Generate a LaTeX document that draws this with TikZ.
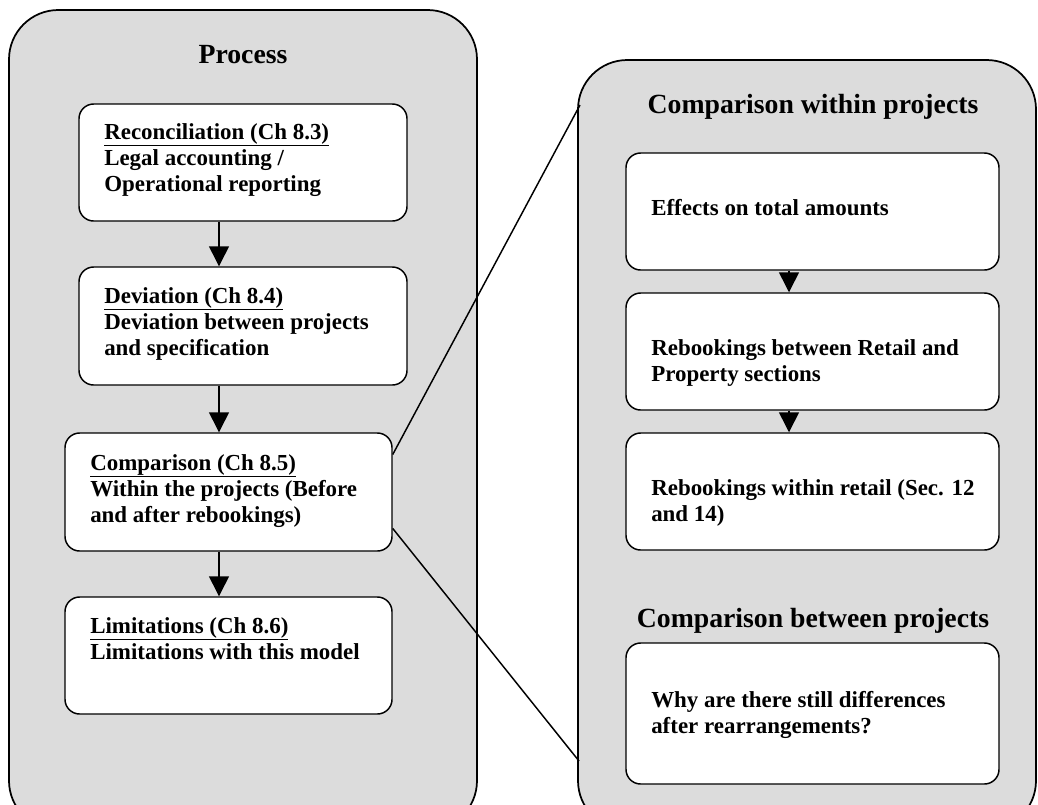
\documentclass[tikz,border=0pt]{standalone}
\usepackage{fontspec}
\setmainfont{Liberation Serif}
\usetikzlibrary{arrows.meta,fit,calc}
\definecolor{panelgray}{RGB}{220,220,220}
\newcommand\boxlines[1]{\begin{tabular}[t]{@{}l@{}}#1\end{tabular}}
\begin{document}
\begin{tikzpicture}[x=0.75pt,y=-0.75pt,
  panel/.style={draw=black,line width=1.3pt,fill=panelgray,rounded corners=37pt},
  stepbox/.style={draw=black,line width=1.1pt,fill=white,rounded corners=11pt,inner sep=0pt},
  boxtext/.style={anchor=base west,inner sep=0pt,font=\bfseries\fontsize{17.2pt}{19.5pt}\selectfont},
  title/.style={anchor=base,inner sep=0pt,font=\bfseries\fontsize{20.8pt}{24pt}\selectfont},
  arr/.style={line width=1.1pt,-{Triangle[length=15pt,width=15pt]}},
  zoomline/.style={line width=1.1pt}]
\useasboundingbox (0,0) rectangle (1038,804);
\clip (0,0) rectangle (1038,804);

% panels
\draw[panel] (9,10) rectangle (477,830);
\draw[panel] (578,60) rectangle (1036,830);

% left column: process steps
\node[stepbox,fit={(79,104) (407,221)}] (b1) {};
\node[stepbox,fit={(79,267) (407,385)}] (b2) {};
\node[stepbox,fit={(65,433) (392,551)}] (b3) {};
\node[stepbox,fit={(65,597) (392,714)}] (b4) {};

\node[title] (ptitle) at (243,63) {Process};
\node[boxtext] (b1t) at (104,139) {\boxlines{\underline{Reconciliation (Ch 8.3)}\\Legal accounting /\\Operational reporting}};
\node[boxtext] (b2t) at (104,303) {\boxlines{\underline{Deviation (Ch 8.4)}\\Deviation between projects\\and specification}};
\node[boxtext] (b3t) at (90,470) {\boxlines{\underline{Comparison (Ch 8.5)}\\Within the projects (Before\\and after rebookings)}};
\node[boxtext] (b4t) at (90,633) {\boxlines{\underline{Limitations (Ch 8.6)}\\Limitations with this model}};

\coordinate (ax) at (219,0);
\draw[arr] (b1.south -| ax) -- (b2.north -| ax);
\draw[arr] (b2.south -| ax) -- (b3.north -| ax);
\draw[arr] (b3.south -| ax) -- (b4.north -| ax);

% right panel: comparison details
\node[stepbox,fit={(626,153) (999,270)}] (r1) {};
\node[stepbox,fit={(626,293) (999,410)}] (r2) {};
\node[stepbox,fit={(626,433) (999,550)}] (r3) {};
\node[stepbox,fit={(626,643) (999,784)}] (r4) {};

\node[title] (wtitle) at (813,113) {Comparison within projects};
\node[title] (btitle) at (813,627) {Comparison between projects};
\node[boxtext] (r1t) at (651,215) {\boxlines{Effects on total amounts}};
\node[boxtext] (r2t) at (651,355) {\boxlines{Rebookings between Retail and\\Property sections}};
\node[boxtext] (r3t) at (651,495) {\boxlines{Rebookings within retail (Sec. 12\\and 14)}};
\node[boxtext] (r4t) at (651,707) {\boxlines{Why are there still differences\\after rearrangements?}};

\coordinate (rx) at (789,0);
\draw[arr] (r1.south -| rx) -- (r2.north -| rx);
\draw[arr] (r2.south -| rx) -- (r3.north -| rx);

% zoom lines from the comparison step to the detail panel
\coordinate (zt) at (580,105);
\coordinate (zb) at (579,761);
\draw[zoomline] ($(b3.north east)!0.186!(b3.south east)$) -- (zt);
\draw[zoomline] ($(b3.north east)!0.805!(b3.south east)$) -- (zb);
\end{tikzpicture}
\end{document}
